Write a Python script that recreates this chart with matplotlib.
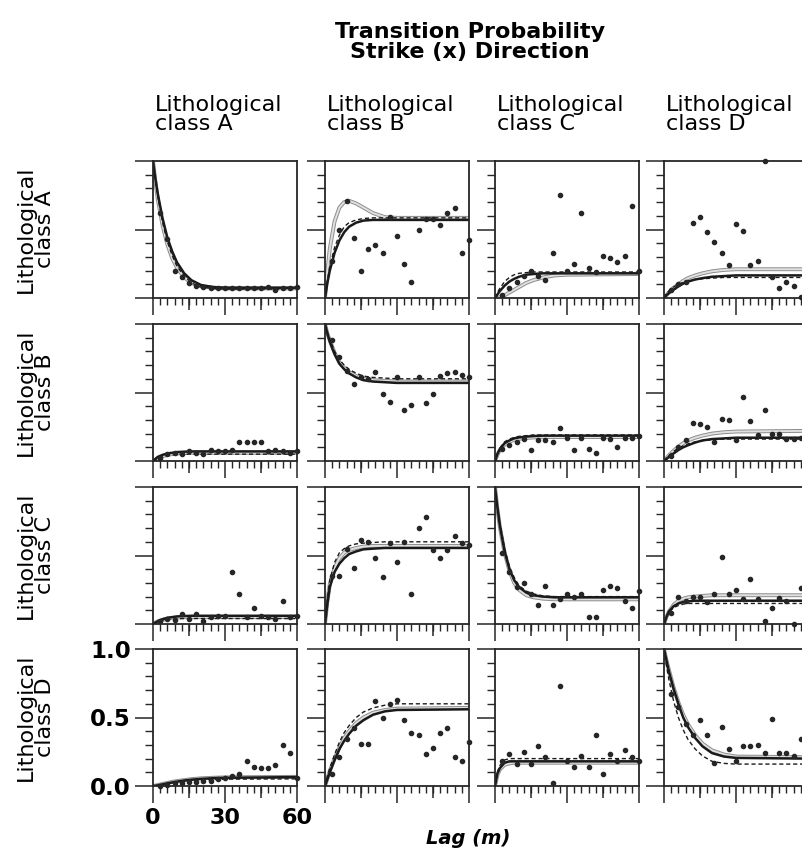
import numpy as np
import matplotlib
matplotlib.use("Agg")
import matplotlib.pyplot as plt

plt.rcParams['font.family'] = ['DejaVu Sans']

classes = ["A", "B", "C", "D"]

# lags of the measured points and of the curve readings (m)
pt_lags = [3, 6, 9, 12, 15, 18, 21, 24, 27, 30, 33, 36, 39, 42, 45, 48, 51, 54, 57, 60]
curve_lags = [0, 1, 2, 4, 6, 8, 10, 13, 16, 20, 25, 30, 60]

# row A
pts_AA = [0.62, 0.43, 0.2, 0.15, 0.11, 0.09, 0.08, 0.07, 0.07, 0.07, 0.07, 0.07, 0.07, 0.07, 0.07, 0.08, 0.06, 0.07, 0.07, 0.08]
solid_AA = [1.0, 0.87, 0.76, 0.58, 0.44, 0.34, 0.26, 0.18, 0.13, 0.095, 0.08, 0.075, 0.075]
gray_AA = [1.0, 0.85, 0.72, 0.53, 0.39, 0.29, 0.22, 0.15, 0.11, 0.085, 0.075, 0.07, 0.07]
dash_AA = [1.0, 0.86, 0.74, 0.55, 0.41, 0.31, 0.23, 0.16, 0.11, 0.08, 0.07, 0.065, 0.065]

pts_AB = [0.27, 0.5, 0.71, 0.44, 0.2, 0.36, 0.39, 0.33, 0.59, 0.45, 0.25, 0.12, 0.5, 0.58, 0.58, 0.53, 0.62, 0.66, 0.33, 0.42]
solid_AB = [0, 0.11, 0.2, 0.33, 0.42, 0.48, 0.52, 0.55, 0.565, 0.57, 0.57, 0.57, 0.57]
gray_AB = [0, 0.2, 0.36, 0.56, 0.66, 0.7, 0.71, 0.69, 0.66, 0.62, 0.59, 0.585, 0.585]
dash_AB = [0, 0.13, 0.23, 0.37, 0.46, 0.52, 0.55, 0.57, 0.58, 0.585, 0.585, 0.585, 0.585]

pts_AC = [0.02, 0.07, 0.12, 0.16, 0.2, 0.16, 0.13, 0.33, 0.75, 0.2, 0.25, 0.62, 0.22, 0.19, 0.31, 0.29, 0.26, 0.31, 0.67, 0.2]
solid_AC = [0, 0.025, 0.05, 0.09, 0.12, 0.14, 0.155, 0.17, 0.175, 0.18, 0.18, 0.18, 0.18]
gray_AC = [0, 0.0, 0.005, 0.02, 0.04, 0.06, 0.08, 0.11, 0.13, 0.15, 0.165, 0.17, 0.175]
dash_AC = [0, 0.04, 0.07, 0.12, 0.15, 0.17, 0.18, 0.185, 0.19, 0.19, 0.19, 0.19, 0.19]

pts_AD = [0.06, 0.1, 0.12, 0.55, 0.59, 0.48, 0.41, 0.33, 0.24, 0.54, 0.49, 0.24, 0.27, 1.0, 0.15, 0.07, 0.12, 0.09, 0.01, 0.12]
solid_AD = [0, 0.02, 0.035, 0.06, 0.085, 0.105, 0.12, 0.135, 0.145, 0.155, 0.16, 0.165, 0.165]
gray_AD = [0, 0.02, 0.04, 0.075, 0.1, 0.125, 0.145, 0.165, 0.18, 0.195, 0.205, 0.21, 0.21]
dash_AD = [0, 0.03, 0.05, 0.08, 0.1, 0.115, 0.125, 0.135, 0.14, 0.145, 0.15, 0.15, 0.15]

# row B
pts_BA = [0.02, 0.05, 0.06, 0.05, 0.07, 0.06, 0.05, 0.08, 0.07, 0.07, 0.08, 0.14, 0.14, 0.14, 0.14, 0.07, 0.08, 0.07, 0.06, 0.07]
solid_BA = [0, 0.015, 0.03, 0.045, 0.055, 0.06, 0.065, 0.068, 0.07, 0.07, 0.07, 0.07, 0.07]
gray_BA = [0, 0.01, 0.02, 0.035, 0.045, 0.05, 0.055, 0.058, 0.06, 0.06, 0.06, 0.06, 0.06]
dash_BA = [0, 0.01, 0.02, 0.03, 0.04, 0.045, 0.05, 0.05, 0.05, 0.05, 0.05, 0.05, 0.05]

pts_BB = [0.88, 0.76, 0.66, 0.56, 0.61, 0.6, 0.65, 0.49, 0.43, 0.61, 0.37, 0.41, 0.61, 0.42, 0.49, 0.62, 0.64, 0.65, 0.63, 0.61]
solid_BB = [1.0, 0.93, 0.87, 0.78, 0.71, 0.67, 0.64, 0.61, 0.59, 0.58, 0.575, 0.57, 0.57]
gray_BB = [1.0, 0.93, 0.88, 0.79, 0.72, 0.68, 0.65, 0.62, 0.6, 0.59, 0.585, 0.58, 0.58]
dash_BB = [1.0, 0.94, 0.89, 0.8, 0.74, 0.7, 0.67, 0.64, 0.62, 0.61, 0.605, 0.6, 0.6]

pts_BC = [0.09, 0.12, 0.14, 0.16, 0.08, 0.15, 0.15, 0.14, 0.24, 0.17, 0.08, 0.17, 0.09, 0.06, 0.17, 0.16, 0.1, 0.17, 0.17, 0.18]
solid_BC = [0, 0.05, 0.085, 0.13, 0.15, 0.165, 0.172, 0.178, 0.182, 0.185, 0.185, 0.185, 0.185]
gray_BC = [0, 0.045, 0.08, 0.12, 0.14, 0.155, 0.162, 0.168, 0.172, 0.175, 0.175, 0.175, 0.175]
dash_BC = [0, 0.055, 0.095, 0.14, 0.16, 0.172, 0.18, 0.185, 0.19, 0.19, 0.19, 0.19, 0.19]

pts_BD = [0.04, 0.1, 0.15, 0.28, 0.27, 0.25, 0.14, 0.31, 0.3, 0.15, 0.47, 0.29, 0.19, 0.37, 0.2, 0.2, 0.16, 0.16, 0.17, 0.18]
solid_BD = [0, 0.015, 0.03, 0.055, 0.08, 0.1, 0.115, 0.135, 0.15, 0.16, 0.165, 0.17, 0.17]
gray_BD = [0, 0.02, 0.04, 0.075, 0.105, 0.13, 0.15, 0.17, 0.185, 0.2, 0.21, 0.215, 0.22]
dash_BD = [0, 0.02, 0.04, 0.07, 0.095, 0.11, 0.125, 0.14, 0.148, 0.155, 0.16, 0.16, 0.16]

# row C
pts_CA = [0.02, 0.04, 0.03, 0.07, 0.04, 0.07, 0.02, 0.05, 0.06, 0.06, 0.38, 0.22, 0.05, 0.12, 0.06, 0.05, 0.04, 0.17, 0.05, 0.06]
solid_CA = [0, 0.01, 0.02, 0.035, 0.045, 0.05, 0.055, 0.058, 0.06, 0.06, 0.06, 0.06, 0.06]
gray_CA = [0, 0.01, 0.02, 0.03, 0.04, 0.045, 0.048, 0.05, 0.05, 0.05, 0.05, 0.05, 0.05]
dash_CA = [0, 0.01, 0.015, 0.025, 0.03, 0.035, 0.038, 0.04, 0.04, 0.04, 0.04, 0.04, 0.04]

pts_CB = [0.35, 0.35, 0.55, 0.41, 0.61, 0.6, 0.48, 0.34, 0.59, 0.45, 0.6, 0.22, 0.7, 0.78, 0.54, 0.48, 0.54, 0.64, 0.59, 0.58]
solid_CB = [0, 0.15, 0.27, 0.38, 0.44, 0.48, 0.51, 0.53, 0.545, 0.55, 0.555, 0.555, 0.555]
gray_CB = [0, 0.17, 0.29, 0.41, 0.48, 0.52, 0.54, 0.555, 0.565, 0.57, 0.57, 0.57, 0.57]
dash_CB = [0, 0.19, 0.32, 0.45, 0.52, 0.55, 0.57, 0.585, 0.59, 0.595, 0.6, 0.6, 0.6]

pts_CC = [0.52, 0.38, 0.27, 0.3, 0.22, 0.14, 0.28, 0.14, 0.18, 0.22, 0.2, 0.22, 0.05, 0.05, 0.25, 0.28, 0.26, 0.17, 0.12, 0.24]
solid_CC = [1.0, 0.85, 0.72, 0.53, 0.4, 0.32, 0.27, 0.23, 0.21, 0.2, 0.195, 0.195, 0.195]
gray_CC = [1.0, 0.84, 0.71, 0.52, 0.39, 0.3, 0.25, 0.21, 0.195, 0.185, 0.18, 0.18, 0.18]
dash_CC = [1.0, 0.86, 0.74, 0.55, 0.42, 0.34, 0.28, 0.24, 0.22, 0.205, 0.2, 0.2, 0.2]

pts_CD = [0.08, 0.2, 0.17, 0.2, 0.2, 0.16, 0.22, 0.49, 0.22, 0.25, 0.18, 0.33, 0.18, 0.02, 0.12, 0.19, 0.17, 0.0, 0.26, 0.17]
solid_CD = [0, 0.05, 0.09, 0.13, 0.15, 0.16, 0.165, 0.17, 0.17, 0.17, 0.17, 0.17, 0.17]
gray_CD = [0, 0.05, 0.09, 0.14, 0.17, 0.185, 0.195, 0.2, 0.205, 0.21, 0.21, 0.21, 0.21]
dash_CD = [0, 0.05, 0.085, 0.12, 0.135, 0.145, 0.15, 0.15, 0.15, 0.15, 0.15, 0.15, 0.15]

# row D
pts_DA = [0.0, 0.01, 0.02, 0.02, 0.03, 0.03, 0.04, 0.04, 0.05, 0.06, 0.07, 0.09, 0.18, 0.14, 0.13, 0.13, 0.15, 0.3, 0.24, 0.06]
solid_DA = [0, 0.002, 0.005, 0.012, 0.02, 0.026, 0.032, 0.04, 0.046, 0.052, 0.057, 0.06, 0.065]
gray_DA = [0, 0.003, 0.007, 0.015, 0.022, 0.03, 0.036, 0.043, 0.05, 0.056, 0.06, 0.063, 0.067]
dash_DA = [0, 0.002, 0.005, 0.01, 0.016, 0.022, 0.027, 0.033, 0.038, 0.043, 0.047, 0.05, 0.052]

pts_DB = [0.09, 0.21, 0.34, 0.42, 0.31, 0.31, 0.62, 0.5, 0.6, 0.63, 0.48, 0.39, 0.37, 0.23, 0.28, 0.39, 0.42, 0.21, 0.18, 0.32]
solid_DB = [0, 0.05, 0.1, 0.19, 0.27, 0.33, 0.38, 0.44, 0.48, 0.52, 0.545, 0.555, 0.56]
gray_DB = [0, 0.055, 0.11, 0.2, 0.28, 0.35, 0.4, 0.46, 0.5, 0.535, 0.555, 0.565, 0.57]
dash_DB = [0, 0.07, 0.13, 0.23, 0.32, 0.39, 0.44, 0.5, 0.54, 0.57, 0.59, 0.6, 0.6]

pts_DC = [0.18, 0.23, 0.16, 0.25, 0.16, 0.29, 0.21, 0.02, 0.73, 0.18, 0.14, 0.22, 0.14, 0.37, 0.09, 0.23, 0.18, 0.26, 0.21, 0.18]
solid_DC = [0, 0.09, 0.13, 0.17, 0.18, 0.18, 0.18, 0.18, 0.18, 0.18, 0.18, 0.18, 0.18]
gray_DC = [0, 0.08, 0.12, 0.155, 0.165, 0.17, 0.17, 0.17, 0.17, 0.17, 0.17, 0.17, 0.17]
dash_DC = [0, 0.1, 0.15, 0.19, 0.2, 0.2, 0.2, 0.2, 0.2, 0.2, 0.2, 0.2, 0.2]

pts_DD = [0.67, 0.58, 0.45, 0.37, 0.48, 0.37, 0.17, 0.43, 0.27, 0.18, 0.29, 0.29, 0.3, 0.24, 0.49, 0.24, 0.24, 0.22, 0.34, 0.2]
solid_DD = [1.0, 0.92, 0.84, 0.71, 0.6, 0.5, 0.43, 0.35, 0.29, 0.24, 0.215, 0.205, 0.2]
gray_DD = [1.0, 0.92, 0.85, 0.72, 0.61, 0.52, 0.45, 0.37, 0.31, 0.26, 0.23, 0.215, 0.21]
dash_DD = [1.0, 0.88, 0.78, 0.62, 0.5, 0.41, 0.34, 0.27, 0.22, 0.18, 0.165, 0.16, 0.16]

W, H = 802, 859
fig = plt.figure(figsize=(W / 100, H / 100), dpi=100)

# panel positions in pixels (right column runs off the page like the original)
lefts = [153, 325, 495, 664]
tops = [161, 324, 487, 649]
pw, ph = 144, 137

for i, r in enumerate(classes):
    for j, c in enumerate(classes):
        key = r + c
        ax = fig.add_axes([lefts[j] / W, 1 - (tops[i] + ph) / H, pw / W, ph / H])
        # gray model drawn as a hollow double line
        ax.plot(curve_lags, globals()["gray_" + key], color="0.55", lw=2.8)
        ax.plot(curve_lags, globals()["gray_" + key], color="0.88", lw=1.4)
        ax.plot(curve_lags, globals()["dash_" + key], color="0.1", lw=1.0, ls=(0, (3, 2)))
        ax.plot(curve_lags, globals()["solid_" + key], color="0.1", lw=1.8)
        ax.plot(pt_lags, globals()["pts_" + key], "o", ms=3.0, color="0.15", clip_on=False)
        ax.set_xlim(0, 60)
        ax.set_ylim(0, 1)
        for s in ax.spines.values():
            s.set_linewidth(1.3)
            s.set_color("0.15")
        ax.set_xticks([0, 30, 60])
        ax.set_xticks(np.arange(0, 61, 3), minor=True)
        ax.set_yticks([0, 0.5, 1.0])
        ax.set_yticks(np.arange(0, 1.01, 0.1), minor=True)
        ax.tick_params(which="major", axis="x", direction="out", length=12, width=1.1, color="0.15")
        ax.tick_params(which="major", axis="y", direction="out", length=13, width=1.1, color="0.15")
        ax.tick_params(which="minor", axis="x", direction="out", length=5, width=1.0, color="0.15")
        ax.tick_params(which="minor", axis="y", direction="out", length=6, width=1.0, color="0.15")
        sec = ax.secondary_xaxis("bottom")
        sec.set_xticks([15, 45])
        sec.tick_params(length=8.5, width=1.1, color="0.15", labelbottom=False)
        sec.spines["bottom"].set_visible(False)
        if i == 3 and j == 0:
            ax.set_yticklabels(["0.0", "0.5", "1.0"], fontsize=16.5, fontweight="bold")
            ax.set_xticklabels(["0", "30", "60"], fontsize=16, fontweight="bold")
            ax.tick_params(axis="y", which="major", pad=3)
            ax.tick_params(axis="x", which="major", pad=4)
        else:
            ax.tick_params(labelleft=False, labelbottom=False)

fig.text(470 / W, 1 - 22 / H, "Transition Probability\nStrike (x) Direction",
         ha="center", va="top", fontsize=16, fontweight="bold", linespacing=1.0)

for j, c in enumerate(classes):
    fig.text((lefts[j] + 2) / W, 1 - 95 / H, "Lithological\nclass " + c,
             ha="left", va="top", fontsize=16, linespacing=0.95)

for i, r in enumerate(classes):
    fig.text(16 / W, 1 - (tops[i] + ph / 2) / H, "Lithological\nclass " + r,
             ha="left", va="center", rotation=90, multialignment="center",
             fontsize=16, linespacing=0.95)

fig.text(468 / W, 1 - 838 / H, "Lag (m)", ha="center", va="center",
         fontsize=14, fontweight="bold", style="italic")

fig.savefig("out.png", dpi=100)
